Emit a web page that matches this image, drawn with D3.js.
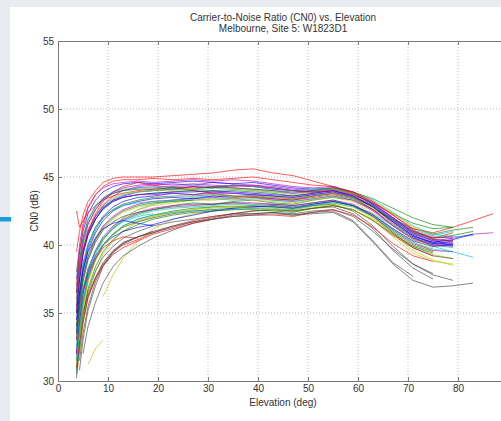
<!DOCTYPE html>
<html>
<head>
<meta charset="utf-8">
<script src="https://cdn.jsdelivr.net/npm/d3@7"></script>
<style>
body { margin: 0; background: #e8ecf1; font-family: "Liberation Sans", Arial, sans-serif; }
svg { display: block; }
</style>
</head>
<body>
<script>
// elevation sample points (deg) shared by every pass
const elevations = [3.7, 4.3, 5, 6, 7.5, 9, 11, 13, 16, 19, 23, 27, 31, 35, 39, 43, 47, 51, 55, 59, 63, 67, 71, 75, 79, 83, 87];

// CN0 (dB) per pass; null = pass not yet visible
const passes = [
  [36.5, 38.2, 39.6, 40.8, 41.9, 42.7, 43.3, 43.6, 43.9, 44.0, 44.1, 44.3, 44.2, 44.4, 44.3, 44.1, 44.0, 43.9, 44.0, 43.6, 42.8, 41.7, 40.7, 40.1, 40.3],
  [33.0, 35.1, 36.8, 38.2, 39.5, 40.4, 41.2, 41.8, 42.3, 42.6, 42.9, 43.1, 43.0, 43.2, 43.3, 43.1, 43.0, 43.3, 43.5, 43.3, 42.6, 41.9, 41.2, 40.8, 41.1, 41.3],
  [39.5, 41.0, 42.2, 43.2, 44.0, 44.6, 44.9, 45.0, 45.0, 45.0, 45.1, 45.2, 45.3, 45.5, 45.6, 45.3, 45.1, 44.7, 44.3, 43.8, 43.0, 42.0, 41.0, 40.5, 40.9],
  [31.5, 34.0, 36.0, 37.8, 39.3, 40.4, 41.3, 42.0, 42.6, 43.0, 43.3, 43.5, 43.6, 43.5, 43.7, 43.6, 43.4, 43.6, 43.8, 43.5, 42.9, 41.8, 40.6, 39.9, 39.5, 39.1],
  [35.0, 37.5, 39.4, 40.9, 42.1, 42.9, 43.6, 44.0, 44.3, 44.4, 44.5, 44.4, 44.6, 44.5, 44.4, 44.3, 44.1, 44.0, 44.1, 43.7, 42.9, 41.9, 41.0, 40.6, 40.5, 40.8, 40.9],
  [null, 32.0, 34.2, 36.2, 38.0, 39.3, 40.3, 41.0, 41.7, 42.1, 42.4, 42.6, 42.8, 42.9, 42.8, 42.9, 42.7, 42.9, 43.1, 42.8, 42.0, 40.8, 39.6, 38.9, 38.5],
  [30.5, 32.8, 34.8, 36.6, 38.1, 39.1, 39.9, 40.5, 41.0, 41.4, 41.7, 41.9, 42.1, 42.3, 42.3, 42.4, 42.2, 42.3, 42.4, 41.7, 40.2, 38.6, 37.4, 36.9, 37.0, 37.2],

  [34.0, 36.5, 38.5, 40.0, 41.3, 42.1, 42.8, 43.2, 43.5, 43.6, 43.8, 43.7, 43.9, 43.8, 43.7, 43.6, 43.5, 43.7, 43.9, 43.5, 42.6, 41.4, 40.5, 40.1, 40.0],
  [31.0, 33.5, 35.6, 37.4, 38.9, 40.0, 40.8, 41.4, 41.9, 42.2, 42.5, 42.7, 42.8, 42.8, 42.9, 42.8, 42.7, 43.0, 43.2, 42.9, 42.1, 41.0, 40.0, 39.5],
  [32.0, 33.5, 35.0, 36.4, 37.6, 38.6, 39.5, 40.0, 40.4, 40.9, 41.4, 41.8, 42.1, 42.3, 42.5, 42.6, 42.5, 42.7, 42.9, 42.6, 41.8, 40.7, 39.8, 39.2],
  [36.0, 38.0, 39.8, 41.1, 42.2, 42.9, 43.4, 43.7, 43.9, 44.0, 44.1, 44.0, 44.2, 44.1, 44.0, 43.9, 43.8, 44.0, 44.1, 43.8, 43.0, 42.0, 41.1, 40.7, 41.0],
  [33.5, 35.8, 37.7, 39.2, 40.5, 41.4, 42.1, 42.6, 43.0, 43.2, 43.3, 43.4, 43.5, 43.4, 43.5, 43.3, 43.2, 43.4, 43.6, 43.3, 42.5, 41.4, 40.4, 40.0, 40.2],
  [null, null, null, null, null, 36.2, 37.8, 39.0, 40.3, 41.2, 41.9, 42.3, 42.5, 42.6, 42.7, 42.6, 42.5, 42.7, 42.9, 42.6, 41.9, 40.9, 39.9, 39.3, 39.0],
  [null, 31.5, 33.5, 35.5, 37.3, 38.5, 39.5, 40.2, 40.6, 40.9, 41.3, 41.7, 42.0, 42.3, 42.5, 42.6, 42.5, 42.7, 42.8, 42.3, 41.2, 39.6, 38.3, 37.5],

  [37.5, 39.5, 41.0, 42.3, 43.3, 43.9, 44.3, 44.5, 44.6, 44.5, 44.6, 44.7, 44.6, 44.5, 44.6, 44.4, 44.2, 44.1, 44.2, 43.8, 43.0, 42.0, 40.9, 40.3, 40.1],
  [35.5, 37.6, 39.4, 40.8, 41.9, 42.6, 43.2, 43.5, 43.7, 43.8, 43.9, 44.0, 43.9, 44.0, 43.9, 43.8, 43.6, 43.8, 44.0, 43.7, 43.1, 42.3, 41.6, 41.2, 41.3],
  [42.5, 41.3, 41.8, 42.4, 42.9, 43.3, 43.6, 43.8, 44.0, 44.1, 44.2, 44.3, 44.2, 44.4, 44.3, 44.2, 44.0, 43.9, 44.1, 43.8, 43.1, 42.2, 41.2, 40.9, 41.3, 41.8, 42.3],
  [32.5, 34.8, 36.7, 38.3, 39.6, 40.5, 41.3, 41.8, 42.2, 42.5, 42.7, 42.8, 42.9, 43.0, 42.9, 42.8, 42.7, 42.9, 43.2, 42.9, 42.3, 41.4, 40.5, 40.0, 39.8],
  [36.5, 38.6, 40.3, 41.6, 42.6, 43.3, 43.8, 44.0, 44.2, 44.2, 44.3, 44.2, 44.3, 44.2, 44.1, 44.0, 43.8, 43.9, 44.0, 43.6, 42.8, 41.8, 40.8, 40.4, 40.3],
  [33.0, 35.3, 37.3, 38.9, 40.3, 41.2, 41.9, 42.4, 42.8, 43.0, 43.2, 43.3, 43.3, 43.4, 43.3, 43.2, 43.1, 43.3, 43.5, 43.2, 42.3, 41.2, 40.2, 39.6],
  [null, null, 32.0, 34.0, 35.8, 37.2, 38.4, 39.2, 39.9, 40.5, 41.1, 41.6, 41.9, 42.2, 42.3, 42.4, 42.3, 42.5, 42.6, 42.1, 41.0, 39.7, 38.6, 37.9],

  [33.5, 36.0, 38.0, 39.6, 40.9, 41.8, 42.5, 42.9, 43.2, 43.4, 43.5, 43.4, 43.6, 43.5, 43.6, 43.4, 43.3, 43.6, 43.8, 43.5, 42.8, 41.7, 40.7, 40.2, 40.0],
  [30.8, 33.0, 35.0, 36.8, 38.4, 39.5, 40.4, 41.0, 41.5, 41.9, 42.2, 42.4, 42.5, 42.6, 42.6, 42.5, 42.4, 42.7, 42.9, 42.6, 41.8, 40.8, 39.9, 39.4],
  [35.0, 37.5, 39.5, 41.0, 42.3, 43.2, 43.9, 44.3, 44.6, 44.4, 44.2, 44.0, 43.8, 43.6, 43.5, 43.4, 43.3, 43.5, 43.7, 43.4, 42.6, 41.5, 40.5, 40.0, 39.9],
  [37.0, 39.0, 40.6, 41.9, 42.9, 43.5, 43.9, 44.1, 44.2, 44.3, 44.3, 44.4, 44.3, 44.4, 44.3, 44.2, 44.0, 44.1, 44.2, 43.9, 43.3, 42.4, 41.4, 40.8, 40.6, 40.7],
  [32.0, 34.3, 36.4, 38.1, 39.6, 40.6, 41.4, 41.9, 42.4, 42.7, 42.9, 43.0, 43.0, 43.1, 43.1, 43.0, 42.9, 43.1, 43.3, 43.0, 42.2, 41.1, 40.1, 39.6, 39.5],
  [36.0, 38.2, 39.9, 41.2, 42.3, 43.0, 43.5, 43.8, 43.9, 44.0, 44.0, 44.1, 44.0, 44.1, 44.0, 43.9, 43.7, 43.9, 44.1, 43.8, 43.2, 42.3, 41.3, 40.7],
  [31.5, 33.8, 35.8, 37.6, 39.0, 40.0, 40.8, 41.3, 41.7, 42.0, 42.3, 42.5, 42.6, 42.7, 42.8, 42.8, 42.7, 42.9, 43.0, 42.5, 41.4, 39.9, 38.6, 37.8, 37.4],

  [32.0, 34.5, 36.5, 38.0, 39.2, 40.0, 40.6, 41.0, 41.3, 41.5, 41.9, 42.2, 42.5, 42.7, 42.8, 42.9, 42.8, 43.0, 43.2, 42.9, 42.2, 41.2, 40.3, 39.9, 40.0],
  [36.5, 38.8, 40.5, 41.8, 42.8, 43.4, 43.8, 44.0, 44.1, 44.1, 44.2, 44.1, 44.3, 44.2, 44.1, 44.0, 43.9, 44.0, 44.2, 43.9, 43.4, 42.7, 42.0, 41.5, 41.3],
  [31.0, 32.8, 34.5, 36.2, 37.5, 38.5, 39.3, 39.8, 40.3, 40.8, 41.2, 41.6, 41.9, 42.1, 42.2, 42.2, 42.1, 42.4, 42.6, 42.2, 41.3, 40.1, 39.2, 38.8],
  [34.5, 36.8, 38.7, 40.1, 41.3, 42.0, 42.6, 42.9, 43.1, 43.2, 43.3, 43.3, 43.4, 43.3, 43.4, 43.3, 43.2, 43.4, 43.6, 43.4, 42.8, 41.9, 40.9, 40.4, 40.3],
  [38.0, 40.0, 41.6, 42.8, 43.7, 44.2, 44.5, 44.6, 44.7, 44.6, 44.7, 44.8, 44.7, 44.8, 44.7, 44.5, 44.3, 44.2, 44.3, 43.9, 43.1, 42.0, 41.0, 40.5, 40.6],
  [31.2, 33.5, 35.6, 37.4, 38.9, 39.9, 40.7, 41.3, 41.8, 42.1, 42.4, 42.6, 42.7, 42.8, 42.7, 42.6, 42.6, 42.8, 43.0, 42.6, 41.8, 40.6, 39.4, 38.8, 38.6],
  [33.0, 35.3, 37.3, 38.9, 40.2, 41.1, 41.7, 42.1, 42.4, 42.6, 42.8, 42.9, 43.0, 43.1, 43.0, 43.0, 42.9, 43.1, 43.3, 42.9, 42.1, 40.9, 39.8, 39.2, 39.0],

  [35.0, 37.4, 39.3, 40.7, 41.9, 42.7, 43.2, 43.5, 43.7, 43.8, 43.9, 43.9, 44.0, 43.9, 43.8, 43.7, 43.6, 43.8, 44.0, 43.6, 42.8, 41.6, 40.6, 40.2, 40.4, 40.8],
  [34.0, 36.3, 38.2, 39.8, 41.1, 42.0, 42.6, 43.0, 43.3, 43.5, 43.6, 43.6, 43.7, 43.6, 43.6, 43.5, 43.4, 43.6, 43.8, 43.5, 42.8, 41.8, 40.9, 40.5, 40.7, 41.0],
  [37.0, 39.5, 41.3, 42.7, 43.7, 44.3, 44.7, 44.8, 44.8, 44.9, 44.8, 44.9, 44.8, 44.9, 45.0, 44.8, 44.6, 44.4, 44.3, 43.9, 43.2, 42.2, 41.1, 40.4, 40.3],
  [31.5, 33.8, 35.9, 37.6, 39.0, 40.0, 40.8, 41.4, 41.9, 42.2, 42.4, 42.5, 42.6, 42.6, 42.7, 42.7, 42.6, 42.9, 43.1, 42.8, 42.1, 41.1, 40.2, 39.7, 39.5],
  [35.5, 37.8, 39.6, 41.0, 42.1, 42.8, 43.3, 43.5, 43.7, 43.7, 43.8, 43.7, 43.8, 43.8, 43.7, 43.6, 43.5, 43.7, 43.9, 43.6, 42.9, 41.9, 40.8, 40.3, 40.5],
  [null, 33.0, 35.2, 37.2, 39.0, 40.3, 41.3, 42.0, 42.6, 42.9, 43.1, 43.3, 43.4, 43.5, 43.6, 43.5, 43.4, 43.6, 43.8, 43.5, 42.7, 41.6, 40.4, 39.8],
  [30.2, 32.3, 34.3, 36.1, 37.6, 38.7, 39.6, 40.1, 40.6, 41.0, 41.4, 41.7, 41.9, 42.1, 42.2, 42.3, 42.2, 42.4, 42.5, 41.8, 40.3, 38.7, 37.7],

  [34.5, 36.5, 38.2, 39.5, 40.5, 41.2, 41.6, 41.8, 41.6, 41.4],
  [33.5, 35.7, 37.6, 39.1, 40.4, 41.3, 42.0, 42.5, 42.9, 43.1, 43.2, 43.3],
  [33.0, 35.0, 36.6, 37.8, 39.0, 39.8, 40.3, 40.6, 40.5],
  [32.5, 34.8, 36.7, 38.2, 39.5, 40.5, 41.2, 41.7, 42.1, 42.3],
  [36.0, 38.3, 40.1, 41.5, 42.6, 43.4, 43.9, 44.2, 44.4, 44.5, 44.4, 44.5, 44.4, 44.3, 44.4, 44.2, 44.0, 43.9, 44.0],
  [null, null, null, 31.2, 32.4, 33.0],
  [null, 30.8, 33.0, 35.2, 37.0, 38.4, 39.4, 40.1, 40.6, 41.0]
];

const xTicks = [0, 10, 20, 30, 40, 50, 60, 70, 80, 90];
const yTicks = [30, 35, 40, 45, 50, 55];

const width = 501, height = 421;
const plot = {left: 58, top: 41, right: 508, bottom: 381};

// matlab default line colour order
const lineColors = ['#0000ff', '#008000', '#ff0000', '#00bfbf', '#bf00bf', '#bfbf00', '#404040'];

const svg = d3.select('body').append('svg')
  .attr('width', width)
  .attr('height', height);

svg.append('rect')
  .attr('x', 10).attr('y', 7)
  .attr('width', width - 10).attr('height', height - 7)
  .attr('fill', '#fff');

svg.append('rect')
  .attr('x', 0).attr('y', 217)
  .attr('width', 11).attr('height', 4.5)
  .attr('fill', '#1b9bd7');

var x = d3.scaleLinear().domain([0, 90]).range([plot.left, plot.right]);
var y = d3.scaleLinear().domain([30, 55]).range([plot.bottom, plot.top]);

// dotted grid
svg.append('g')
  .selectAll('line')
  .data(xTicks.slice(1, -1))
  .enter().append('line')
  .attr('x1', d => x(d)).attr('x2', d => x(d))
  .attr('y1', plot.top).attr('y2', plot.bottom)
  .attr('stroke', '#b8b8b8')
  .attr('stroke-dasharray', '1,2');

svg.append('g')
  .selectAll('line')
  .data(yTicks.slice(1, -1))
  .enter().append('line')
  .attr('x1', plot.left).attr('x2', plot.right)
  .attr('y1', d => y(d)).attr('y2', d => y(d))
  .attr('stroke', '#b8b8b8')
  .attr('stroke-dasharray', '1,2');

svg.append('defs').append('clipPath').attr('id', 'plotclip')
  .append('rect')
  .attr('x', plot.left).attr('y', plot.top)
  .attr('width', plot.right - plot.left).attr('height', plot.bottom - plot.top);

var line = d3.line()
  .defined(d => d[1] != null)
  .x(d => x(d[0]))
  .y(d => y(d[1]));

svg.append('g')
  .attr('clip-path', 'url(#plotclip)')
  .selectAll('path')
  .data(passes)
  .enter().append('path')
  .attr('d', d => line(d.map((v, i) => [elevations[i], v])))
  .attr('fill', 'none')
  .attr('stroke', (d, i) => lineColors[i % lineColors.length])
  .attr('stroke-width', 0.8)
  .attr('stroke-opacity', 0.8);

// axes (the 90 tick sits past the window edge, so no label for it)
var xAxis = svg.append('g')
  .attr('transform', 'translate(0,' + plot.bottom + ')')
  .call(d3.axisBottom(x).tickValues(xTicks).tickSizeInner(-4).tickSizeOuter(0).tickPadding(4)
    .tickFormat(d => d === 90 ? '' : d));

var xTop = svg.append('g')
  .attr('transform', 'translate(0,' + plot.top + ')')
  .call(d3.axisTop(x).tickValues(xTicks).tickSizeInner(-4).tickSizeOuter(0).tickFormat(''));

var yAxis = svg.append('g')
  .attr('transform', 'translate(' + plot.left + ',0)')
  .call(d3.axisLeft(y).tickValues(yTicks).tickSizeInner(-4).tickSizeOuter(0).tickPadding(4));

[xAxis, xTop, yAxis].forEach(function(g) {
  g.select('.domain').attr('stroke', '#7a7a7a');
  g.selectAll('.tick line').attr('stroke', '#7a7a7a');
  g.selectAll('.tick text')
    .attr('fill', '#333')
    .style('font-family', '"Liberation Sans", Arial, sans-serif')
    .style('font-size', '10px');
});

svg.append('text')
  .attr('x', 283).attr('y', 21)
  .attr('text-anchor', 'middle')
  .attr('fill', '#333')
  .style('font-size', '10px')
  .text('Carrier-to-Noise Ratio (CN0) vs. Elevation');

svg.append('text')
  .attr('x', 283).attr('y', 32)
  .attr('text-anchor', 'middle')
  .attr('fill', '#333')
  .style('font-size', '10px')
  .text('Melbourne, Site 5: W1823D1');

svg.append('text')
  .attr('x', 283).attr('y', 406)
  .attr('text-anchor', 'middle')
  .attr('fill', '#333')
  .style('font-size', '10px')
  .text('Elevation (deg)');

svg.append('text')
  .attr('transform', 'translate(38,' + ((plot.top + plot.bottom) / 2) + ') rotate(-90)')
  .attr('text-anchor', 'middle')
  .attr('fill', '#333')
  .style('font-size', '10px')
  .text('CN0 (dB)');
</script>
</body>
</html>
